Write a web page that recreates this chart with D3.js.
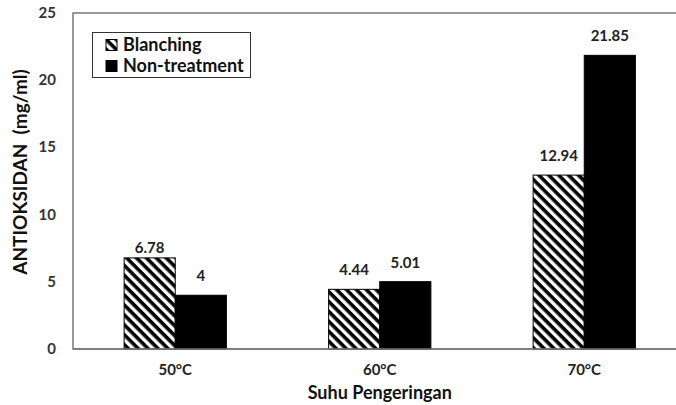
<!DOCTYPE html>
<html lang="en">
<head>
<meta charset="UTF-8">
<title>Antioksidan</title>
<style>
	body { margin: 0; background: #fff; }
	svg { display: block; font-family: Lato, "Open Sans", sans-serif; font-weight: bold; }
</style>
</head>
<body>
<svg></svg>
<script src="https://cdnjs.cloudflare.com/ajax/libs/d3/7.8.5/d3.min.js"></script>
<script>
	const categories = ['50°C', '60°C', '70°C'];
	const seriesNames = ['Blanching', 'Non-treatment'];
	const blanching = [6.78, 4.44, 12.94];
	const nonTreatment = [4, 5.01, 21.85];
	const yTicks = [0, 5, 10, 15, 20, 25];

	const width = 676, height = 405;
	const plotLeft = 73, plotRight = 686.5, plotTop = 13, plotBottom = 349;

	const svg = d3.select('svg').attr('width', width).attr('height', height);

	const defs = svg.append('defs');
	const pat = defs.append('pattern')
		.attr('id', 'hatch')
		.attr('patternUnits', 'userSpaceOnUse')
		.attr('width', 7).attr('height', 7)
		.attr('patternTransform', 'rotate(45)');
	pat.append('rect').attr('width', 7).attr('height', 7).attr('fill', '#fff');
	pat.append('rect').attr('width', 7).attr('height', 3.6).attr('fill', '#000');

	const x = d3.scaleBand().domain(categories).range([plotLeft, plotRight])
		.paddingInner(0.5).paddingOuter(0.25);
	const xs = d3.scaleBand().domain(seriesNames).range([0, x.bandwidth()]);
	const y = d3.scaleLinear().domain([0, 25]).range([plotBottom, plotTop]);

	// plot frame
	svg.append('rect')
		.attr('x', plotLeft).attr('y', plotTop)
		.attr('width', plotRight - plotLeft).attr('height', plotBottom - plotTop)
		.attr('fill', 'none').attr('stroke', '#777').attr('stroke-width', 1.5);

	const rows = categories.map((c, i) => [
		{ cat: c, s: seriesNames[0], v: blanching[i] },
		{ cat: c, s: seriesNames[1], v: nonTreatment[i] }
	]).flat();

	svg.append('g').selectAll('rect').data(rows).join('rect')
		.attr('x', d => x(d.cat) + xs(d.s))
		.attr('y', d => y(d.v))
		.attr('width', xs.bandwidth())
		.attr('height', d => y(0) - y(d.v))
		.attr('fill', d => d.s === 'Blanching' ? 'url(#hatch)' : '#000')
		.attr('stroke', '#000').attr('stroke-width', 1);

	svg.append('line')
		.attr('x1', plotLeft).attr('x2', plotRight).attr('y1', plotBottom).attr('y2', plotBottom)
		.attr('stroke', '#777').attr('stroke-width', 1.5);

	// value labels
	svg.append('g').selectAll('text').data(rows).join('text')
		.attr('x', d => x(d.cat) + xs(d.s) + xs.bandwidth() / 2)
		.attr('y', (d, i) => y(d.v) - (i === 0 ? 5 : 14))
		.attr('text-anchor', 'middle')
		.attr('font-size', 15).attr('fill', '#222')
		.text(d => d.v);

	// y ticks
	svg.append('g').selectAll('text').data(yTicks).join('text')
		.attr('x', 56).attr('y', d => y(d) + 5)
		.attr('text-anchor', 'end')
		.attr('font-size', 15).attr('fill', '#333')
		.text(d => d);

	// x labels
	svg.append('g').selectAll('text').data(categories).join('text')
		.attr('x', d => x(d) + x.bandwidth() / 2).attr('y', 375)
		.attr('text-anchor', 'middle')
		.attr('font-size', 15).attr('fill', '#222')
		.text(d => d);

	svg.append('text')
		.attr('x', x(categories[1]) + x.bandwidth() / 2).attr('y', 399)
		.attr('text-anchor', 'middle').attr('font-size', 18).attr('fill', '#111')
		.text('Suhu Pengeringan');

	svg.append('text')
		.attr('transform', 'translate(27,172) rotate(-90)')
		.attr('text-anchor', 'middle').attr('font-size', 19).attr('fill', '#111')
		.attr('xml:space', 'preserve')
		.text('ANTIOKSIDAN  (mg/ml)');

	// legend
	const lg = svg.append('g');
	lg.append('rect').attr('x', 92.5).attr('y', 32.5).attr('width', 158).attr('height', 45)
		.attr('fill', '#fff').attr('stroke', '#333').attr('stroke-width', 1);
	seriesNames.forEach((s, i) => {
		lg.append('rect').attr('x', 106).attr('y', 39.5 + i * 21).attr('width', 11).attr('height', 11)
			.attr('fill', i === 0 ? 'url(#hatch)' : '#000').attr('stroke', '#000');
		lg.append('text').attr('x', 123).attr('y', 51 + i * 21)
			.attr('font-size', 18).attr('fill', '#111').text(s);
	});
</script>
</body>
</html>
